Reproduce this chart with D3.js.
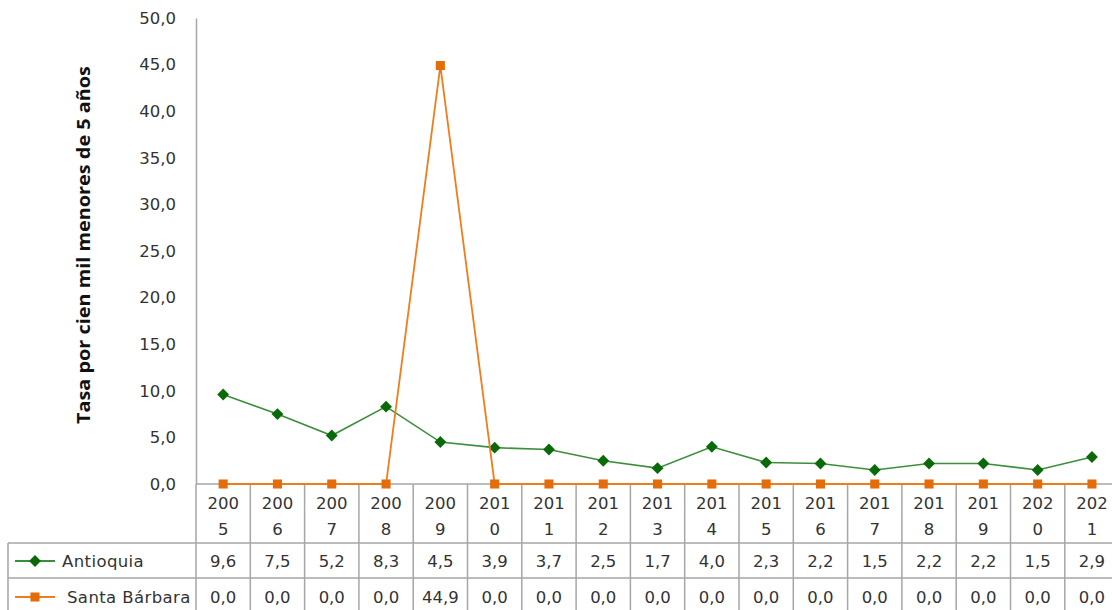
<!DOCTYPE html>
<html>
<head>
<meta charset="utf-8">
<script src="https://cdn.jsdelivr.net/npm/d3@7"></script>
<style>
  html, body { margin: 0; padding: 0; background: #fff; overflow: hidden; }
  svg { display: block; }
</style>
</head>
<body>
<svg id="chart" width="1112" height="610"></svg>
<script>
// Tasa por cien mil menores de 5 años, Antioquia vs Santa Bárbara
const years = ["2005","2006","2007","2008","2009","2010","2011","2012","2013","2014","2015","2016","2017","2018","2019","2020","2021"];
const antioquia = [9.6, 7.5, 5.2, 8.3, 4.5, 3.9, 3.7, 2.5, 1.7, 4.0, 2.3, 2.2, 1.5, 2.2, 2.2, 1.5, 2.9];
const santaBarbara = [0.0, 0.0, 0.0, 0.0, 44.9, 0.0, 0.0, 0.0, 0.0, 0.0, 0.0, 0.0, 0.0, 0.0, 0.0, 0.0, 0.0];
const yTicks = [0, 5, 10, 15, 20, 25, 30, 35, 40, 45, 50];
const yTitle = "Tasa por cien mil menores de 5 años";

const series = [
  { name: "Antioquia", values: antioquia, line: "#3b8f3b", mark: "#0a6a0a", symbol: "diamond" },
  { name: "Santa Bárbara", values: santaBarbara, line: "#ee7d1c", mark: "#e46c0a", symbol: "square" }
];

const svg = d3.select("#chart");
const font = "'DejaVu Sans', Verdana, sans-serif";
const textColor = "#333";
const gridColor = "#a6a6a6";

const plotLeft = 196, plotTop = 18, plotBottom = 484;
const colW = 54.3;
const tableLeft = 8;
const rowHeader = 543, row1 = 578, row2 = 613;

const x = d3.scaleBand().domain(years).range([plotLeft, plotLeft + colW * years.length]).padding(0);
const y = d3.scaleLinear().domain([0, 50]).range([plotBottom, plotTop]);
const fmt = v => d3.format(".1f")(v).replace(".", ",");

// Y axis
const yAxis = d3.axisLeft(y).tickValues(yTicks).tickFormat(fmt).tickSize(0).tickPadding(20);
const gy = svg.append("g").attr("transform", `translate(${plotLeft},0)`).call(yAxis);
gy.select(".domain").attr("stroke", gridColor).attr("stroke-width", 1.5);
gy.selectAll("text").attr("font-family", font).attr("font-size", 16.5).attr("fill", textColor);

// Y axis title
svg.append("text")
  .attr("transform", `translate(90,245) rotate(-90)`)
  .attr("text-anchor", "middle")
  .attr("font-family", "'Open Sans', 'DejaVu Sans', sans-serif")
  .attr("font-weight", "bold")
  .attr("font-size", 17)
  .attr("fill", "#111")
  .attr("textLength", 358)
  .attr("lengthAdjust", "spacingAndGlyphs")
  .text(yTitle);

// Data table grid
const grid = svg.append("g").attr("stroke", gridColor).attr("stroke-width", 1.5).attr("fill", "none");
const xEdges = years.map(d => x(d)).concat([x(years[years.length - 1]) + x.bandwidth()]);
xEdges.forEach(e => {
  grid.append("line").attr("x1", e).attr("x2", e).attr("y1", plotBottom).attr("y2", row2);
});
grid.append("line").attr("x1", plotLeft).attr("x2", xEdges[xEdges.length - 1]).attr("y1", plotBottom).attr("y2", plotBottom);
[rowHeader, row1, row2].forEach(r => {
  grid.append("line").attr("x1", tableLeft).attr("x2", xEdges[xEdges.length - 1]).attr("y1", r).attr("y2", r);
});
grid.append("line").attr("x1", tableLeft).attr("x2", tableLeft).attr("y1", rowHeader).attr("y2", row2);

// Year headers, wrapped onto two lines
const hdr = svg.append("g").attr("font-family", font).attr("font-size", 16.5).attr("fill", textColor).attr("text-anchor", "middle");
years.forEach(yr => {
  const cx = x(yr) + x.bandwidth() / 2;
  hdr.append("text").attr("x", cx).attr("y", 509).text(yr.slice(0, 3));
  hdr.append("text").attr("x", cx).attr("y", 535).text(yr.slice(3));
});

// Table values
const rowsY = [561, 597];
series.forEach((s, i) => {
  const g = svg.append("g").attr("font-family", font).attr("font-size", 16.5).attr("fill", textColor).attr("text-anchor", "middle");
  s.values.forEach((v, j) => {
    g.append("text").attr("x", x(years[j]) + x.bandwidth() / 2).attr("y", rowsY[i] + 6).text(fmt(v));
  });
});

// Marker shapes
const symbolFor = s => s.symbol === "diamond"
  ? d3.symbol().type(d3.symbolDiamond2).size(90)
  : d3.symbol().type(d3.symbolSquare).size(82);

// Lines and markers
series.forEach(s => {
  const pts = s.values.map((v, j) => [x(years[j]) + x.bandwidth() / 2, y(v)]);
  svg.append("path")
    .attr("d", d3.line()(pts))
    .attr("fill", "none")
    .attr("stroke", s.line)
    .attr("stroke-width", s.symbol === "diamond" ? 1.6 : 1.8);
  svg.append("g").selectAll("path").data(pts).join("path")
    .attr("transform", d => `translate(${d[0]},${d[1]})`)
    .attr("d", symbolFor(s)())
    .attr("fill", s.mark);
});

// Legend keys inside the table
series.forEach((s, i) => {
  const ly = rowsY[i];
  svg.append("line").attr("x1", 15).attr("x2", 55).attr("y1", ly).attr("y2", ly)
    .attr("stroke", s.line).attr("stroke-width", 1.8);
  svg.append("path").attr("transform", `translate(35,${ly})`).attr("d", symbolFor(s)()).attr("fill", s.mark);
  svg.append("text").attr("x", i === 0 ? 62 : 67).attr("y", ly + 6)
    .attr("font-family", font).attr("font-size", 16.5).attr("fill", textColor)
    .attr("letter-spacing", 0.4)
    .text(s.name);
});
</script>
</body>
</html>
